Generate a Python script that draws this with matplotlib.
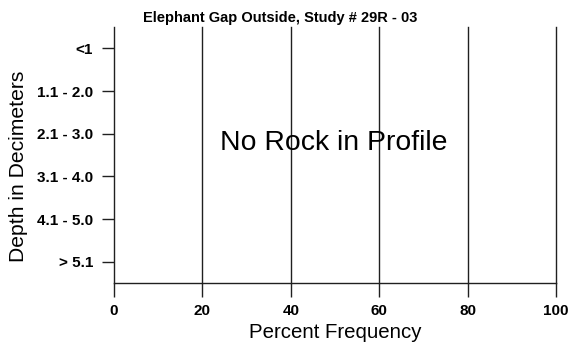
import matplotlib
matplotlib.use("Agg")
import matplotlib.pyplot as plt

plt.rcParams['font.family'] = ['Liberation Sans', 'DejaVu Sans']

categories = ["<1", "1.1 - 2.0", "2.1 - 3.0", "3.1 - 4.0", "4.1 - 5.0", "> 5.1"]
values = [0, 0, 0, 0, 0, 0]
xticks = [0, 20, 40, 60, 80, 100]
title = "Elephant Gap Outside, Study # 29R - 03"
note = "No Rock in Profile"

fig = plt.figure(figsize=(5.71, 3.46), dpi=100)
ax = fig.add_axes([114/571, 1 - 283/346, 442/571, 256/346])

ypos = list(range(len(categories)))
ax.barh(ypos, values, color="#808080", height=0.6)
ax.set_ylim(len(categories) - 0.5, -0.5)
ax.set_xlim(0, 100)
ax.set_yticks(ypos)
ax.set_yticklabels(categories, fontsize=11, fontweight="bold")
ax.set_xticks(xticks)
ax.set_xticklabels([str(x) for x in xticks], fontsize=11, fontweight="bold")
for x in xticks[1:]:
    ax.axvline(x, color="#202020", linewidth=1.0, zorder=0, clip_on=False)

for s in ["top", "right"]:
    ax.spines[s].set_visible(False)
for s in ["left", "bottom"]:
    ax.spines[s].set_color("#202020")
    ax.spines[s].set_linewidth(1.0)

ax.tick_params(axis="x", which="major", bottom=True, direction="out", length=10,
               width=1.0, color="#202020", pad=5)
ax.tick_params(axis="y", which="major", left=True, direction="out", length=9,
               width=1.0, color="#202020", pad=6)

ax.set_xlabel("Percent Frequency", fontsize=14.7)
ax.xaxis.set_label_coords(0.5, -(333 - 283) / 256, transform=ax.transAxes)
ax.xaxis.label.set_va("center")
ax.set_ylabel("Depth in Decimeters", fontsize=15.2)
ax.yaxis.set_label_coords(-(114 - 19) / 442, (283 - 166) / 256, transform=ax.transAxes)
ax.yaxis.label.set_va("center")
ax.text(0.497, (283 - 143) / 256, note, transform=ax.transAxes, fontsize=20.4,
        ha="center", va="center")
fig.text(280/571, 1 - 18/346, title, fontsize=10.5, fontweight="bold",
         ha="center", va="center")

fig.savefig("out.png", dpi=100)
